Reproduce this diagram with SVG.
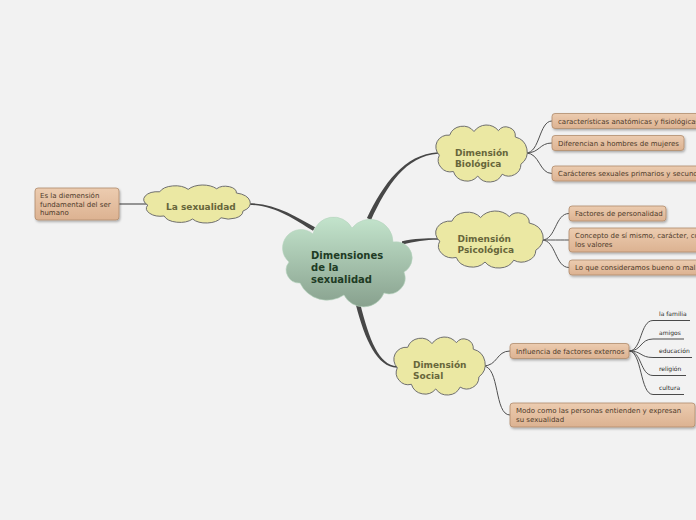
<svg xmlns="http://www.w3.org/2000/svg" xmlns:xlink="http://www.w3.org/1999/xlink" width="696" height="520" viewBox="0 0 696 520">
<style>
.bg{fill:#f2f2f2}
.main{fill:#474747}
.sub{fill:none;stroke:#505050;stroke-width:1}
.gray{fill:none;stroke:#8a8a8a;stroke-width:1.8}
.uline{fill:none;stroke:#4a4a4a;stroke-width:1}
.cloudY{fill:#ebe8a3;stroke:#6f6f6f;stroke-width:1}
.box{fill:url(#boxGrad);stroke:#b08b6c;stroke-width:0.8;filter:url(#shadow)}
.bt{font-family:"DejaVu Sans",Verdana,sans-serif;font-size:7px;fill:#4e3a2a}
.ct{font-family:"DejaVu Sans",Verdana,sans-serif;font-size:9px;font-weight:bold;fill:#67663b}
.mt{font-family:"DejaVu Sans",Verdana,sans-serif;font-size:10px;font-weight:bold;fill:#1e3b24}
.lt{font-family:"DejaVu Sans",Verdana,sans-serif;font-size:6px;fill:#2a2a2a}
</style>
<defs>
<linearGradient id="centerGrad" x1="0" y1="0" x2="0" y2="1">
<stop offset="0" stop-color="#c3e4cc"/>
<stop offset="1" stop-color="#88a18e"/>
</linearGradient>
<linearGradient id="boxGrad" x1="0" y1="0" x2="0" y2="1">
<stop offset="0" stop-color="#ecccb0"/>
<stop offset="1" stop-color="#dcb291"/>
</linearGradient>
<filter id="shadow" x="-10%" y="-30%" width="120%" height="170%">
<feDropShadow dx="1" dy="1.5" stdDeviation="0.8" flood-color="#000" flood-opacity="0.3"/>
</filter>
<path id="cloud" vector-effect="non-scaling-stroke" d="M 3,34 A 13,13 0 0 1 14,12 A 15,15 0 0 1 40,8 A 16,16 0 0 1 66,7 A 10,10 0 0 1 84,14 A 17,17 0 0 1 90,44 A 13,13 0 0 1 70,55 A 15,15 0 0 1 44,57 A 15,15 0 0 1 18,52 A 13,13 0 0 1 3,34 Z"/>
</defs>
<rect class="bg" x="0" y="0" width="696" height="520"/>

<g id="connectors">
<path class="main" d="M 315,227.3 C 296,216.6 275,203.1 248,203.25 L 248,204.75 C 275,205 294,219.4 313,230.7 Z"/>
<path class="main" d="M 366.96,218.04 C 383.2,184.2 404.3,154.2 437.95,152.25 L 438.05,153.75 C 405.7,155.8 386.8,185.8 371.04,219.96 Z"/>
<path class="main" d="M 402,241.25 C 415,238.5 425,238.25 438,238.25 L 438,239.75 C 425,239.75 415,241.5 402,244.75 Z"/>
<path class="main" d="M 355.8,304.5 C 365,340.5 377,366.8 397,367.75 L 397,366.25 C 379,365.2 369,339.5 360.2,303.5 Z"/>
<path class="gray" d="M 119,204 L 148,204"/>
<path class="sub" d="M 526,153 C 540,153 539,121 552,121"/>
<path class="sub" d="M 526,153 C 540,153 539,143 552,143"/>
<path class="sub" d="M 526,153 C 540,153 539,173.5 552,173.5"/>
<path class="sub" d="M 542,240 C 556,240 555,213.5 569,213.5"/>
<path class="sub" d="M 542,240 C 556,240 555,240 569,240"/>
<path class="sub" d="M 542,240 C 556,240 555,267.5 569,267.5"/>
<path class="sub" d="M 483,366 C 498,366 496,351 510,351"/>
<path class="sub" d="M 483,366 C 500,366 494,415 510,415"/>
<path class="sub" d="M 629,351 C 642,351 640,320.5 653,320.5"/>
<path class="sub" d="M 629,351 C 642,351 640,339 653,339"/>
<path class="sub" d="M 629,351 C 642,351 640,357.5 653,357.5"/>
<path class="sub" d="M 629,351 C 642,351 640,375.5 653,375.5"/>
<path class="sub" d="M 629,351 C 642,351 640,394.5 653,394.5"/>
</g>

<g id="center">
<path fill="url(#centerGrad)" stroke="#b5d3bd" stroke-width="0.6" d="M 289,262 A 18,18 0 0 1 313,234 A 21,21 0 0 1 352,228 A 23,23 0 0 1 393,242 A 16.2,16.2 0 0 1 404,272 A 16,16 0 0 1 384,293 A 22,22 0 0 1 344,295 A 30,30 0 0 1 300,283 A 13,13 0 0 1 289,262 Z"/>
<text class="mt" x="311" y="258.5">Dimensiones</text>
<text class="mt" x="311" y="270.8">de la</text>
<text class="mt" x="311" y="283">sexualidad</text>
</g>

<g id="la-sexualidad">
<use href="#cloud" class="cloudY" transform="translate(144.45,184.52) scale(1.094,0.605)"/>
<text class="ct" x="166" y="210">La sexualidad</text>
</g>

<g id="def-box">
<rect class="box" x="35" y="188" width="84" height="32" rx="3"/>
<text class="bt" x="40" y="198">Es la diemensión</text>
<text class="bt" x="40" y="206.5">fundamental del ser</text>
<text class="bt" x="40" y="215">humano</text>
</g>

<g id="biologica">
<use href="#cloud" class="cloudY" transform="translate(436.53,124.27) scale(0.9375,0.908)"/>
<text class="ct" x="455" y="155.5">Dimensión</text>
<text class="ct" x="455" y="166.8">Biológica</text>
</g>

<g id="psicologica">
<use href="#cloud" class="cloudY" transform="translate(436.45,210.27) scale(1.104,0.908)"/>
<text class="ct" x="457.5" y="241.5">Dimensión</text>
<text class="ct" x="457.5" y="252.8">Psicológica</text>
</g>

<g id="social">
<use href="#cloud" class="cloudY" transform="translate(394.53,336.26) scale(0.9375,0.924)"/>
<text class="ct" x="413" y="367.5">Dimensión</text>
<text class="ct" x="413" y="378.5">Social</text>
</g>

<g id="b1">
<rect class="box" x="552" y="113.5" width="170" height="15" rx="3"/>
<text class="bt" x="558" y="123.5">características anatómicas y fisiológicas</text>
</g>
<g id="b2">
<rect class="box" x="552" y="135.5" width="132" height="15" rx="3"/>
<text class="bt" x="558" y="145.5">Diferencian a hombres de mujeres</text>
</g>
<g id="b3">
<rect class="box" x="552" y="166" width="170" height="15" rx="3"/>
<text class="bt" x="558" y="176">Carácteres sexuales primarios y secund</text>
</g>

<g id="p1">
<rect class="box" x="569" y="206" width="97" height="15" rx="3"/>
<text class="bt" x="575" y="216">Factores de personalidad</text>
</g>
<g id="p2">
<rect class="box" x="569" y="228" width="150" height="24" rx="3"/>
<text class="bt" x="575" y="238">Concepto de sí mismo, carácter, co</text>
<text class="bt" x="575" y="247">los valores</text>
</g>
<g id="p3">
<rect class="box" x="569" y="260" width="150" height="15" rx="3"/>
<text class="bt" x="575" y="270">Lo que consideramos bueno o mal</text>
</g>

<g id="s1">
<rect class="box" x="510" y="343.5" width="119" height="15" rx="3"/>
<text class="bt" x="516" y="353.8">Influencia de factores externos</text>
</g>
<g id="s2">
<rect class="box" x="510" y="403" width="185" height="24" rx="3"/>
<text class="bt" x="516" y="412.8">Modo como las personas entienden y expresan</text>
<text class="bt" x="516" y="421.8">su sexualidad</text>
</g>

<g id="l1"><path class="uline" d="M 653,320.5 L 690,320.5"/><text class="lt" x="659" y="316.3">la familia</text></g>
<g id="l2"><path class="uline" d="M 653,339 L 684,339"/><text class="lt" x="659" y="334.5">amigos</text></g>
<g id="l3"><path class="uline" d="M 653,357.5 L 692,357.5"/><text class="lt" x="659" y="353.3">educación</text></g>
<g id="l4"><path class="uline" d="M 653,375.5 L 686,375.5"/><text class="lt" x="659" y="371.3">religión</text></g>
<g id="l5"><path class="uline" d="M 653,394.5 L 684,394.5"/><text class="lt" x="659" y="390.3">cultura</text></g>
</svg>
